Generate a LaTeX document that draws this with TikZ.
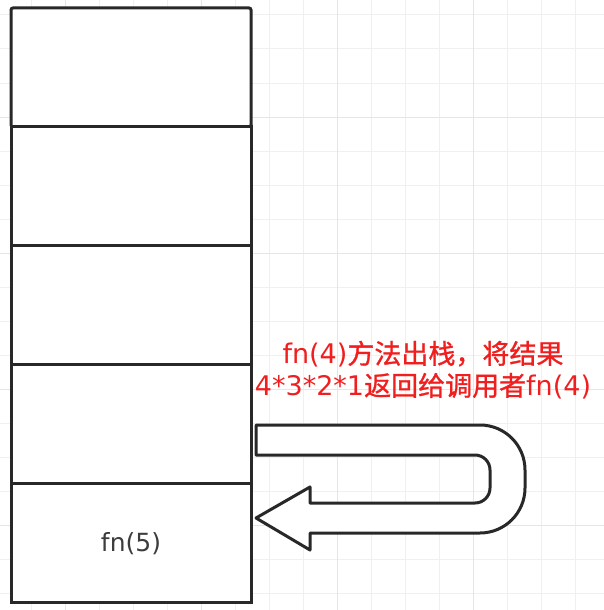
\documentclass[tikz,border=0pt]{standalone}
\usepackage{fontspec}
\setmainfont{Noto Sans CJK SC}
\newfontfamily\cjkfont[FakeBold=1]{Noto Sans CJK SC}
\newfontfamily\latfont{DejaVu Sans}
\definecolor{ink}{RGB}{40,40,40}
\definecolor{txtred}{RGB}{240,30,30}
\definecolor{txtgray}{RGB}{60,60,60}
\definecolor{gridminor}{RGB}{240,240,240}
\definecolor{gridmajor}{RGB}{230,230,230}
\tikzset{
  frame/.style={draw=ink, line width=3pt, fill=white, minimum width=240pt, minimum height=118.8pt, inner sep=0pt, outer sep=0pt, anchor=north west},
  uarrow/.style={draw=ink, line width=3pt, fill=white, line join=round},
  redtext/.style={text=txtred, font=\fontsize{27}{32}\selectfont, align=center},
  celltext/.style={text=txtgray, font=\latfont\fontsize{25}{28}\selectfont}
}
\begin{document}
\begin{tikzpicture}[x=1pt,y=-1pt]
\useasboundingbox (0,0) rectangle (604,610);
\fill[white] (0,0) rectangle (604,610);
% grid
\foreach \k in {0,...,17} {
  \pgfmathsetmacro{\gx}{31+34*\k}
  \draw[gridminor, line width=1pt] (\gx,0) -- (\gx,610);
}
\foreach \k in {0,...,17} {
  \pgfmathsetmacro{\gy}{15+34*\k}
  \draw[gridminor, line width=1pt] (0,\gy) -- (604,\gy);
}
\foreach \gx in {65,201,337,473} \draw[gridmajor, line width=1pt] (\gx,0) -- (\gx,610);
\foreach \gy in {117,253,389,525} \draw[gridmajor, line width=1pt] (0,\gy) -- (604,\gy);
% stack
\node[frame, rounded corners=2pt] (f1) at (11,8) {};
\node[frame] (f2) at (11,126.8) {};
\node[frame] (f3) at (11,245.6) {};
\node[frame] (f4) at (11,364.4) {};
\node[frame] (f5) at (11,483.2) {};
\node[celltext] (t5) at (131,544) {fn(5)};
% U-turn arrow
\draw[uarrow] (256,425) -- (480,425) arc[start angle=-90, end angle=0, radius=45]
  -- (525,488) arc[start angle=0, end angle=90, radius=45]
  -- (310,533) -- (310,550) -- (256,518) -- (310,487) -- (310,503)
  -- (475,503) arc[start angle=90, end angle=0, radius=15]
  -- (490,470) arc[start angle=0, end angle=-90, radius=15]
  -- (256,455) -- cycle;
% label
\node[redtext] (lbl) at (423,370) {{\latfont fn(4)}{\cjkfont 方法出栈，将结果}\\{\latfont 4*3*2*1}{\cjkfont 返回给调用者}{\latfont fn(4)}};
\end{tikzpicture}
\end{document}
